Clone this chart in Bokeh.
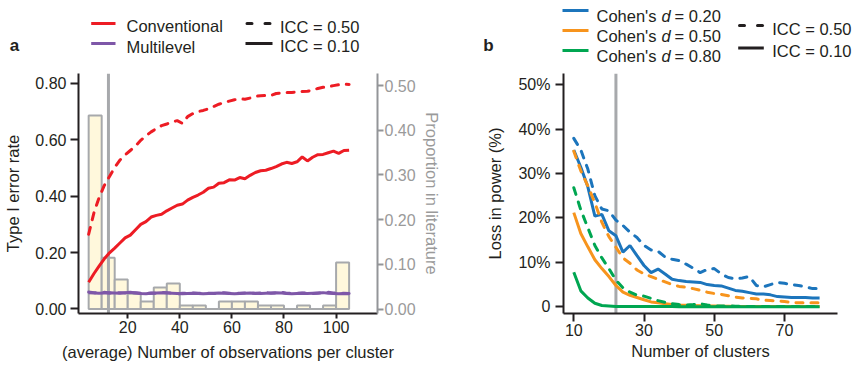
from bokeh.plotting import figure
from bokeh.layouts import row, column
from bokeh.models import Range1d, LinearAxis, FixedTicker, PrintfTickFormatter
from bokeh.core.properties import value
from bokeh.embed import file_html
from bokeh.resources import INLINE

FONT = "Liberation Sans"
INK = "#231F20"
GREY = "#A7A9AC"
GREY_AX = "#939598"
GREY_TXT = "#9A9A9A"
RED = "#ED1C24"
PURPLE = "#7E57A8"
BLUE = "#1C75BC"
ORANGE = "#F7941D"
GREEN = "#00A651"
HIST_FILL = "#FFF8DC"

# ---------------- data: panel a ----------------
obs_per_cluster = [5, 7, 9, 11, 13, 15, 17, 19, 21, 23, 25, 27, 29, 31, 33, 35, 37, 39, 41, 43,
                   45, 47, 49, 51, 53, 55, 57, 59, 61, 63, 65, 67, 69, 71, 73, 75, 77, 79, 81, 83,
                   85, 87, 89, 91, 93, 95, 97, 99, 101, 103, 105]
conv_icc10 = [0.095, 0.125, 0.152, 0.178, 0.199, 0.216, 0.234, 0.252, 0.262, 0.281,
              0.300, 0.310, 0.326, 0.332, 0.336, 0.348, 0.358, 0.368, 0.372, 0.386,
              0.396, 0.404, 0.414, 0.428, 0.432, 0.446, 0.448, 0.458, 0.457, 0.466,
              0.462, 0.474, 0.484, 0.490, 0.492, 0.498, 0.505, 0.514, 0.520, 0.516,
              0.522, 0.539, 0.525, 0.538, 0.547, 0.548, 0.554, 0.560, 0.552, 0.562, 0.563]
conv_icc50 = [0.265, 0.340, 0.395, 0.438, 0.470, 0.502, 0.528, 0.546, 0.562, 0.578,
              0.598, 0.614, 0.628, 0.640, 0.650, 0.656, 0.663, 0.668, 0.658, 0.682,
              0.693, 0.700, 0.704, 0.710, 0.718, 0.726, 0.732, 0.737, 0.742, 0.745,
              0.744, 0.748, 0.754, 0.756, 0.757, 0.757, 0.764, 0.766, 0.768, 0.768,
              0.769, 0.771, 0.772, 0.776, 0.782, 0.786, 0.788, 0.792, 0.795, 0.797, 0.796]
ml_icc10 = [0.058, 0.057, 0.056, 0.057, 0.058, 0.057, 0.056, 0.058, 0.059, 0.057,
            0.055, 0.054, 0.056, 0.057, 0.058, 0.057, 0.056, 0.055, 0.054, 0.055,
            0.056, 0.055, 0.054, 0.055, 0.056, 0.057, 0.056, 0.055, 0.054, 0.055,
            0.056, 0.057, 0.056, 0.055, 0.056, 0.057, 0.058, 0.057, 0.055, 0.054,
            0.055, 0.056, 0.055, 0.056, 0.057, 0.058, 0.056, 0.055, 0.054, 0.055, 0.054]
ml_icc50 = [0.060, 0.058, 0.057, 0.059, 0.057, 0.056, 0.058, 0.057, 0.056, 0.058,
            0.056, 0.055, 0.057, 0.056, 0.059, 0.058, 0.056, 0.054, 0.056, 0.055,
            0.057, 0.056, 0.055, 0.056, 0.055, 0.056, 0.058, 0.056, 0.055, 0.056,
            0.057, 0.056, 0.055, 0.057, 0.058, 0.056, 0.057, 0.059, 0.056, 0.055,
            0.056, 0.057, 0.056, 0.055, 0.056, 0.057, 0.059, 0.057, 0.055, 0.056, 0.055]
bin_left = [5, 10, 15, 20, 25, 30, 35, 40, 45, 50, 55, 60, 65, 70, 75, 80, 85, 90, 95, 100]
bin_right = [10, 15, 20, 25, 30, 35, 40, 45, 50, 55, 60, 65, 70, 75, 80, 85, 90, 95, 100, 105]
lit_prop = [0.433, 0.115, 0.066, 0.034, 0.017, 0.048, 0.057, 0.008, 0.008, 0.000,
            0.017, 0.017, 0.017, 0.008, 0.008, 0.000, 0.008, 0.000, 0.008, 0.104]
lit_median_obs = 12.6
a_xticks = [20, 40, 60, 80, 100]
a_yticks = [0.0, 0.2, 0.4, 0.6, 0.8]
a_rticks = [0.0, 0.1, 0.2, 0.3, 0.4, 0.5]

# ---------------- data: panel b ----------------
n_clusters = [10, 12, 14, 16, 18, 20, 22, 24, 26, 28, 30, 32, 34, 36, 38, 40, 42, 44,
              46, 48, 50, 52, 54, 56, 58, 60, 62, 64, 66, 68, 70, 72, 74, 76, 78, 80]
loss_d20_icc10 = [35.3, 31.4, 27.0, 20.4, 20.8, 17.1, 16.0, 12.3, 13.8, 11.5,
                  9.3, 7.7, 8.5, 7.4, 6.2, 5.9, 5.7, 5.6, 5.5, 5.0,
                  4.8, 4.7, 4.2, 3.7, 3.5, 3.2, 2.9, 2.9, 2.7, 2.3,
                  2.2, 2.1, 2.1, 2.1, 2.0, 2.0]
loss_d20_icc50 = [37.9, 35.3, 31.0, 25.0, 22.0, 21.6, 19.5, 18.3, 16.8, 15.6,
                  13.8, 12.8, 12.5, 11.2, 10.7, 10.4, 9.6, 8.7, 7.7, 8.4,
                  8.6, 7.4, 6.6, 6.3, 6.5, 6.8, 4.8, 4.5, 5.0, 5.5,
                  5.3, 5.0, 4.8, 4.5, 4.1, 4.1]
loss_d50_icc10 = [21.2, 16.5, 13.5, 10.6, 8.6, 6.8, 4.8, 3.3, 2.6, 2.1,
                  1.6, 1.1, 0.9, 0.7, 0.5, 0.4, 0.35, 0.3, 0.25, 0.2,
                  0.2, 0.15, 0.15, 0.1, 0.1, 0.1, 0.1, 0.1, 0.1, 0.1,
                  0.1, 0.1, 0.1, 0.1, 0.1, 0.1]
loss_d50_icc50 = [35.0, 30.6, 27.2, 23.4, 19.0, 15.8, 13.4, 11.0, 9.8, 8.3,
                  7.4, 6.8, 6.2, 5.6, 5.0, 4.6, 4.4, 4.1, 3.7, 3.3,
                  3.0, 2.8, 2.5, 2.2, 2.0, 1.9, 1.8, 1.5, 1.4, 1.3,
                  1.2, 1.0, 0.9, 0.9, 0.9, 0.9]
loss_d80_icc10 = [7.8, 3.6, 2.0, 0.8, 0.3, 0.2, 0.1, 0.1, 0.1, 0.1,
                  0.05, 0.05, 0.05, 0.05, 0.05, 0.0, 0.0, 0.0, 0.0, 0.0,
                  0.0, 0.0, 0.0, 0.0, 0.0, 0.0, 0.0, 0.0, 0.0, 0.0,
                  0.0, 0.0, 0.0, 0.0, 0.0, 0.0]
loss_d80_icc50 = [26.8, 21.8, 17.8, 13.8, 11.0, 8.6, 6.0, 4.3, 3.3, 2.6,
                  2.4, 1.9, 1.4, 1.0, 0.7, 0.5, 0.4, 0.5, 0.7, 0.4,
                  0.2, 0.2, 0.2, 0.15, 0.1, 0.1, 0.1, 0.1, 0.1, 0.1,
                  0.1, 0.1, 0.1, 0.1, 0.1, 0.1]
lit_median_clusters = 22
b_xticks = [10, 30, 50, 70]
b_yticks = [0, 10, 20, 30, 40, 50]
b_ytick_labels = ["0", "10%", "20%", "30%", "40%", "50%"]

# legend texts
method_labels = ["Conventional", "Multilevel"]
icc_labels = ["ICC = 0.50", "ICC = 0.10"]
effect_values = ["= 0.20", "= 0.50", "= 0.80"]

# ---------------- layout constants (page pixels) ----------------
W = 854
H = 365
TOP = 64                 # height of the legend strip
WA, WB = 448, 406
XA = (1.1, 115.9)
YA = (-0.016, 0.835)
YR = (-0.010, 0.527)
FA = (78, 377, 72, 313)  # left, right, top, bottom of panel a frame
XB = (7.07, 85.1)
YB = (-1.5, 52.5)
FB = (563, 837, 73, 315)
TXT_DY = -3              # baseline correction for legend texts


def style_axis(ax, color=INK, text_color=INK, tick_out=8, standoff=4):
    ax.axis_line_color = color
    ax.axis_line_width = 2
    ax.major_tick_line_color = color
    ax.major_tick_line_width = 2
    ax.major_tick_out = tick_out
    ax.major_tick_in = 0
    ax.minor_tick_line_color = None
    ax.major_label_text_font = FONT
    ax.major_label_text_font_size = "16px"
    ax.major_label_text_color = text_color
    ax.major_label_standoff = standoff
    ax.axis_label_text_font = FONT
    ax.axis_label_text_font_size = "16.5px"
    ax.axis_label_text_font_style = "normal"
    ax.axis_label_text_color = text_color


def clean(p):
    p.outline_line_color = None
    p.xgrid.visible = False
    p.ygrid.visible = False
    p.background_fill_color = "white"
    p.border_fill_color = "white"


# ---------------- legend strip (pixel coordinates) ----------------
lg = figure(width=W, height=TOP, x_range=Range1d(0, W), y_range=Range1d(TOP, 0),
            output_backend="svg", toolbar_location=None,
            x_axis_type=None, y_axis_type=None,
            min_border=0, min_border_left=0, min_border_right=0,
            min_border_top=0, min_border_bottom=0)
clean(lg)


def ltext(xs, ys, texts, style="normal", size="16.5px"):
    lg.text(x=xs, y=[y + TXT_DY for y in ys], text=texts, text_font=value(FONT),
            text_font_size=value(size), text_color=INK, text_font_style=value(style),
            text_baseline="alphabetic", text_align="left")


def lseg(x0, x1, y, color, dash="solid", cap="butt"):
    lg.segment(x0=[x0], y0=[y], x1=[x1], y1=[y], line_color=color, line_width=3,
               line_dash=dash, line_cap=cap)


# panel a legend
lseg(90.7, 115, 23, RED)
lseg(90.7, 115, 43, PURPLE)
lseg(246.5, 270.5, 23, INK, dash="5 13", cap="round")
lseg(245, 272, 43, INK)
ltext([126, 126], [28, 49], method_labels)
ltext([279.5, 279.5], [29, 48.7], icc_labels)
ltext([9.3], [48.3], ["a"], style="bold", size="17px")

# panel b legend
for i, col in enumerate([BLUE, ORANGE, GREEN]):
    lseg(562, 588, 10 + 20 * i, col)
ltext([596, 596, 596], [18.3, 38.3, 58.5], ["Cohen's"] * 3)
ltext([661, 661, 661], [18.3, 38.3, 58.5], ["d"] * 3, style="italic")
ltext([674, 674, 674], [18.3, 38.3, 58.5], effect_values)
lseg(739, 763, 25, INK, dash="5 13", cap="round")
lseg(737.7, 763.3, 47.5, INK)
ltext([771.7, 771.7], [31.7, 53.3], icc_labels)
ltext([482.7], [48.3], ["b"], style="bold", size="17px")

# ---------------- panel a ----------------
pa = figure(width=WA, height=H - TOP, x_range=Range1d(*XA), y_range=Range1d(*YA),
            output_backend="svg", toolbar_location=None,
            min_border_left=FA[0], min_border_right=WA - FA[1],
            min_border_top=FA[2] - TOP, min_border_bottom=H - FA[3])
clean(pa)
pa.extra_y_ranges = {"prop": Range1d(*YR)}

pa.quad(left=bin_left, right=bin_right, bottom=0, top=lit_prop, y_range_name="prop",
        fill_color=HIST_FILL, line_color=GREY, line_width=2)
pa.segment(x0=[lit_median_obs], y0=[YA[0]], x1=[lit_median_obs], y1=[YA[1]],
           line_color=GREY, line_width=3)
DASH = "7 8"
pa.line(obs_per_cluster, conv_icc50, line_color=RED, line_width=3, line_dash=DASH, line_cap="round")
pa.line(obs_per_cluster, conv_icc10, line_color=RED, line_width=3)
pa.line(obs_per_cluster, ml_icc50, line_color=PURPLE, line_width=3, line_dash=DASH, line_cap="round")
pa.line(obs_per_cluster, ml_icc10, line_color=PURPLE, line_width=3)

pa.xaxis.ticker = FixedTicker(ticks=a_xticks)
pa.xaxis.axis_label = "(average) Number of observations per cluster"
pa.yaxis.ticker = FixedTicker(ticks=a_yticks)
pa.yaxis.formatter = PrintfTickFormatter(format="%.2f")
pa.yaxis.axis_label = "Type I error rate"
style_axis(pa.xaxis[0], tick_out=5, standoff=2)
pa.xaxis[0].axis_label_standoff = 7
style_axis(pa.yaxis[0], tick_out=8, standoff=4)
pa.yaxis[0].axis_label_standoff = 10

rax = LinearAxis(y_range_name="prop", ticker=FixedTicker(ticks=a_rticks),
                 formatter=PrintfTickFormatter(format="%.2f"),
                 axis_label="Proportion in literature")
style_axis(rax, color=GREY_AX, text_color=GREY_TXT, tick_out=6, standoff=1)
rax.axis_label_standoff = 4
pa.add_layout(rax, "right")

# ---------------- panel b ----------------
pb = figure(width=WB, height=H - TOP, x_range=Range1d(*XB), y_range=Range1d(*YB),
            output_backend="svg", toolbar_location=None,
            min_border_left=FB[0] - WA, min_border_right=W - FB[1],
            min_border_top=FB[2] - TOP, min_border_bottom=H - FB[3])
clean(pb)

pb.segment(x0=[lit_median_clusters], y0=[YB[0]], x1=[lit_median_clusters], y1=[YB[1]],
           line_color=GREY, line_width=3)
for icc50, icc10, col in [(loss_d20_icc50, loss_d20_icc10, BLUE),
                          (loss_d50_icc50, loss_d50_icc10, ORANGE),
                          (loss_d80_icc50, loss_d80_icc10, GREEN)]:
    pb.line(n_clusters, icc50, line_color=col, line_width=3, line_dash=DASH, line_cap="round")
    pb.line(n_clusters, icc10, line_color=col, line_width=3)

pb.xaxis.ticker = FixedTicker(ticks=b_xticks)
pb.xaxis.axis_label = "Number of clusters"
pb.yaxis.ticker = FixedTicker(ticks=b_yticks)
pb.yaxis.major_label_overrides = {t: s for t, s in zip(b_yticks, b_ytick_labels)}
pb.yaxis.axis_label = "Loss in power (%)"
style_axis(pb.xaxis[0], tick_out=8, standoff=2)
pb.xaxis[0].axis_label_standoff = 3
style_axis(pb.yaxis[0], tick_out=8, standoff=5)
pb.yaxis[0].axis_label_standoff = 11

layout = column(lg, row(pa, pb))
open("out.html", "w").write(file_html(layout, INLINE))
